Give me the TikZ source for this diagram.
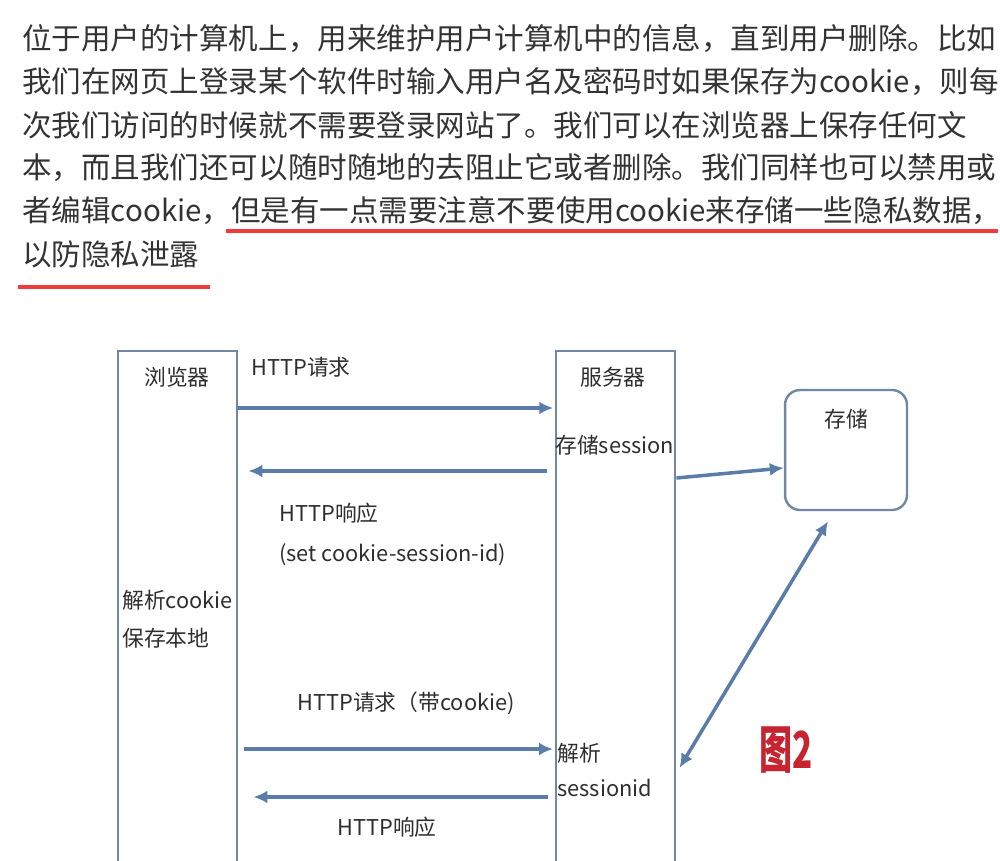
\documentclass[tikz,border=0pt]{standalone}
\usepackage{fontspec}
\usepackage{graphicx}
\usepackage{tikz}
\setmainfont{Noto Sans CJK SC}
\usetikzlibrary{arrows.meta, positioning, calc}
\definecolor{txtgray}{HTML}{333333}
\definecolor{diaggray}{HTML}{2E2E2E}
\definecolor{boxgray}{HTML}{7188A4}
\definecolor{arrowblue}{HTML}{5A7CA8}
\definecolor{markred}{HTML}{F23A3A}
\definecolor{figred}{HTML}{C62530}
\XeTeXlinebreaklocale "zh"
\XeTeXlinebreakskip=0pt plus 1pt
\newcommand{\fullline}[1]{\hbox to 19.46cm{#1}}

\begin{document}
\begin{tikzpicture}[
    x=0.02cm, y=-0.02cm,
    para/.style={anchor=west, inner sep=0pt, text=txtgray, font=\fontsize{16.8pt}{20pt}\selectfont},
    hl/.style={draw=markred, line width=2.2pt},
    column/.style={rectangle, draw=boxgray, line width=1.4pt, anchor=north west, minimum width=2.38cm, minimum height=10.8cm, inner sep=0pt},
    storebox/.style={rectangle, rounded corners=0.3cm, draw=boxgray, line width=1.4pt, minimum width=2.44cm, minimum height=2.4cm},
    lbl/.style={inner sep=0pt, text=diaggray, font=\fontsize{12.4pt}{15pt}\selectfont},
    arr/.style={-{Latex[length=2.8mm,width=2.6mm]}, line width=2pt, draw=arrowblue}
]
\useasboundingbox (0,0) rectangle (1000,861);

% Paragraph
\node[para] (l1) at (22,39) {\fullline{位于用户的计算机上，用来维护用户计算机中的信息，直到用户删除。比如}};
\node[para] (l2) at (22,82) {\fullline{我们在网页上登录某个软件时输入用户名及密码时如果保存为cookie，则每}};
\node[para] (l3) at (22,125) {\fullline{次我们访问的时候就不需要登录网站了。我们可以在浏览器上保存任何文}};
\node[para] (l4) at (22,168) {\fullline{本，而且我们还可以随时随地的去阻止它或者删除。我们同样也可以禁用或}};
\node[para] (l5) at (22,211) {\fullline{者编辑cookie，但是有一点需要注意不要使用cookie来存储一些隐私数据，}};
\node[para] (l6) at (22,254) {以防隐私泄露};

% Underline
\draw[hl] (226,231) -- (998,231);
\draw[hl] (18,287) -- (210,287);

% Browser and server
\node[column] (browser) at (117,350) {};
\node[column] (server) at (555,350) {};
\node[lbl] (browserlbl) at (177,377) {浏览器};
\node[lbl] (serverlbl) at (613,377) {服务器};

% Storage
\node[storebox] (store) at (846,450) {};
\node[lbl] (storelbl) at ([yshift=-0.6cm]store.north) {存储};

% Levels
\coordinate (req) at (0,408);
\coordinate (resp) at (0,471);
\coordinate (reqc) at (0,749);
\coordinate (respc) at (0,797);
\coordinate (save) at (0,478);
\coordinate (lookup) at (0,773);

% First round
\node[lbl, anchor=west] (reqlbl) at (251,367) {HTTP请求};
\draw[arr, shorten >=1pt] (browser.east |- req) -- (server.west |- req);
\node[lbl, anchor=west] (savelbl) at (555,445) {存储session};
\draw[arr, shorten <=0.16cm, shorten >=0.2cm] (server.west |- resp) -- (browser.east |- resp);
\node[lbl, anchor=west] (resplbl) at (279,513) {HTTP响应};
\node[lbl, anchor=west] (setlbl) at (279,555) {(set cookie-session-id)};
\node[lbl, anchor=west, align=left, font=\fontsize{12.4pt}{21.6pt}\selectfont] (parselbl) at (122,619) {解析cookie\\保存本地};

% Second round
\node[lbl, anchor=west] (reqclbl) at (297,703) {HTTP请求（带cookie)};
\draw[arr, shorten <=0.12cm, shorten >=0.04cm] (browser.east |- reqc) -- (server.west |- reqc);
\node[lbl, anchor=west, align=left, font=\fontsize{12.4pt}{20pt}\selectfont] (idlbl) at (557,770) {解析\\sessionid};
\draw[arr, shorten <=0.14cm, shorten >=0.3cm] (server.west |- respc) -- (browser.east |- respc);
\node[lbl, anchor=west] (respclbl) at (337,827) {HTTP响应};

% Server to storage
\draw[arr] (server.east |- save) -- ([yshift=-0.36cm]store.west);
\draw[arr, {Latex[length=2.8mm,width=2.6mm]}-{Latex[length=2.8mm,width=2.6mm]}, shorten >=0.12cm] ([xshift=-0.36cm,yshift=-0.2cm]store.south) -- (server.east |- lookup);

% Figure mark
\node[inner sep=0pt, text=figred, font=\fontsize{29pt}{30pt}\selectfont\bfseries] (figmark) at (786,750) {\scalebox{0.65}[1]{图2}};

\end{tikzpicture}
\end{document}
